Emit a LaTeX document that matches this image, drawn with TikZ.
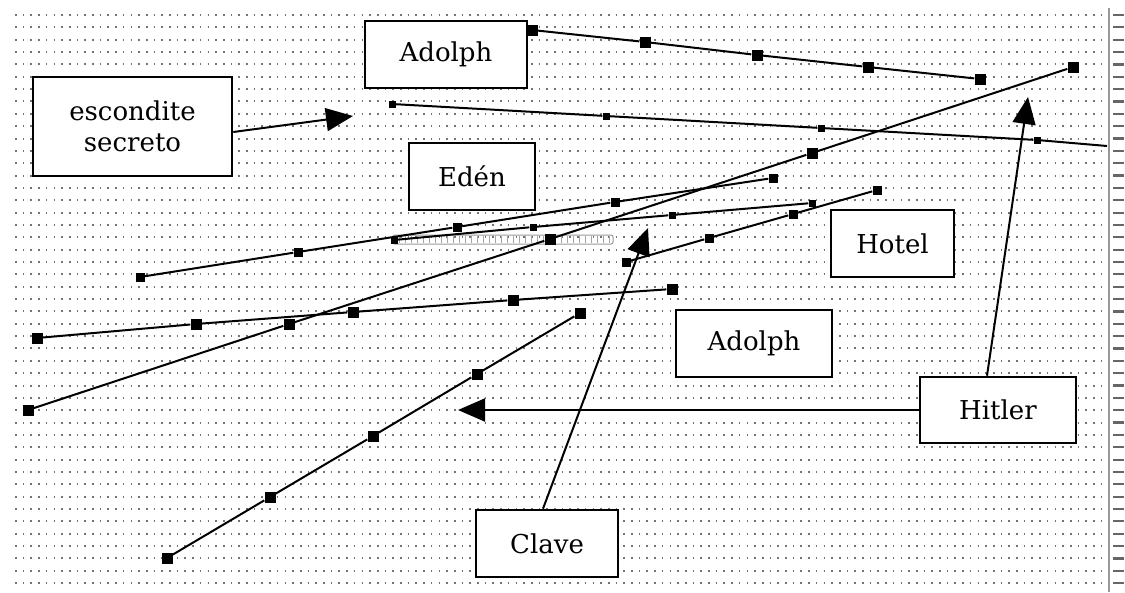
\documentclass[tikz,border=0pt]{standalone}
\usepackage{fontspec}
\setmainfont{DejaVu Serif}
\usetikzlibrary{arrows.meta,calc}
\tikzset{
  box/.style={draw=black, line width=2.6pt, fill=white, inner sep=0pt, align=center,
              font=\fontsize{26}{31}\selectfont},
  mk/.style={fill=black, draw=none, inner sep=0pt, minimum size=11pt},
  mkm/.style={fill=black, draw=none, inner sep=0pt, minimum size=9pt},
  mks/.style={fill=black, draw=none, inner sep=0pt, minimum size=7pt},
  ln/.style={line width=2pt, black},
  arr/.style={line width=2pt, black, -{Triangle[length=27pt,width=23pt]}},
  griddot/.style={line width=2pt, black!55, dash pattern=on 1.6pt off 6.1pt},
}
\begin{document}
\begin{tikzpicture}[x=1pt,y=-1pt]
\useasboundingbox (0,0) rectangle (1125,592);
\fill[white] (0,0) rectangle (1125,592);
% background dotted grid
\foreach \k in {0,...,46}{
  \draw[griddot] (15,{15+12.35*\k}) -- (1102,{15+12.35*\k});
  \draw[black!60, line width=2.2pt] (1113,{15+12.35*\k}) -- (1124,{15+12.35*\k});
}
\draw[black!40, line width=2pt] (1109,8) -- (1109,592);

% boxes
\node[box, minimum width=199pt, minimum height=99pt] (esc) at (132.5,126.5) {escondite\\secreto};
\node[box, minimum width=162pt, minimum height=67pt] (ado1) at (446,54.5) {Adolph};
\node[box, minimum width=126pt, minimum height=67pt] (eden) at (472,176.5) {Edén};
\node[box, minimum width=123pt, minimum height=67pt] (hot) at (892.5,243.5) {Hotel};
\node[box, minimum width=156pt, minimum height=67pt] (ado2) at (754,343.5) {Adolph};
\node[box, minimum width=156pt, minimum height=66pt] (hit) at (998,410) {Hitler};
\node[box, minimum width=142pt, minimum height=67pt] (cla) at (547,543.5) {Clave};

% gray hatched strip
\draw[black!40, line width=1pt, rounded corners=2pt] (393,235) rectangle (613,244);
\foreach \x in {399,405,...,609}{
  \draw[black!35, line width=0.8pt] (\x,236) -- (\x,243);
}

% line A
\node[mk] (a1) at (532,30) {};
\node[mk] (a2) at (645,42) {};
\node[mk] (a3) at (757,55) {};
\node[mk] (a4) at (868,67) {};
\node[mk] (a5) at (980,79) {};
\draw[ln] (a1) -- (a2) -- (a3) -- (a4) -- (a5);

% line B
\node[mks] (b1) at (392,104) {};
\node[mks] (b2) at (606,116) {};
\node[mks] (b3) at (821,128) {};
\node[mks] (b4) at (1037,140) {};
\coordinate (b5) at (1107,146);
\draw[ln] (b1) -- (b2) -- (b3) -- (b4) -- (b5);

% line C
\node[mk] (c1) at (28,410) {};
\node[mk] (c2) at (289,324) {};
\node[mk] (c3) at (550,239) {};
\node[mk] (c4) at (812,153) {};
\node[mk] (c5) at (1073,67) {};
\draw[ln] (c1) -- (c2) -- (c3) -- (c4) -- (c5);

% line D
\node[mk] (d1) at (37,338) {};
\node[mk] (d2) at (196,324) {};
\node[mk] (d3) at (353,312) {};
\node[mk] (d4) at (513,300) {};
\node[mk] (d5) at (672,289) {};
\draw[ln] (d1) -- (d2) -- (d3) -- (d4) -- (d5);

% line E
\node[mkm] (e1) at (140,277) {};
\node[mkm] (e2) at (298,252) {};
\node[mkm] (e3) at (457,227) {};
\node[mkm] (e4) at (615,202) {};
\node[mkm] (e5) at (773,178) {};
\draw[ln] (e1) -- (e2) -- (e3) -- (e4) -- (e5);

% line F
\node[mks] (f1) at (394,240) {};
\node[mks] (f2) at (533,227) {};
\node[mks] (f3) at (672,215) {};
\node[mks] (f4) at (812,203) {};
\draw[ln] (f1) -- (f2) -- (f3) -- (f4);

% line G
\node[mkm] (g1) at (626,262) {};
\node[mkm] (g2) at (709,238) {};
\node[mkm] (g3) at (793,214) {};
\node[mkm] (g4) at (877,190) {};
\draw[ln] (g1) -- (g2) -- (g3) -- (g4);

% line H
\node[mk] (h1) at (167,558) {};
\node[mk] (h2) at (270,497) {};
\node[mk] (h3) at (373,436) {};
\node[mk] (h4) at (477,374) {};
\node[mk] (h5) at (580,313) {};
\draw[ln] (h1) -- (h2) -- (h3) -- (h4) -- (h5);

% arrows
\coordinate (tEsc) at (353,116);
\coordinate (tUp) at (1028,97);
\coordinate (tLeft) at (458,410);
\coordinate (tCla) at (648,228);
\draw[arr] ($(esc.east)+(0,5.5)$) -- (tEsc);
\draw[arr] ($(hit.north)+(-11,0)$) -- (tUp);
\draw[arr] (hit.west) -- (tLeft);
\draw[arr] ($(cla.north)+(-4,0)$) -- (tCla);
\end{tikzpicture}
\end{document}
